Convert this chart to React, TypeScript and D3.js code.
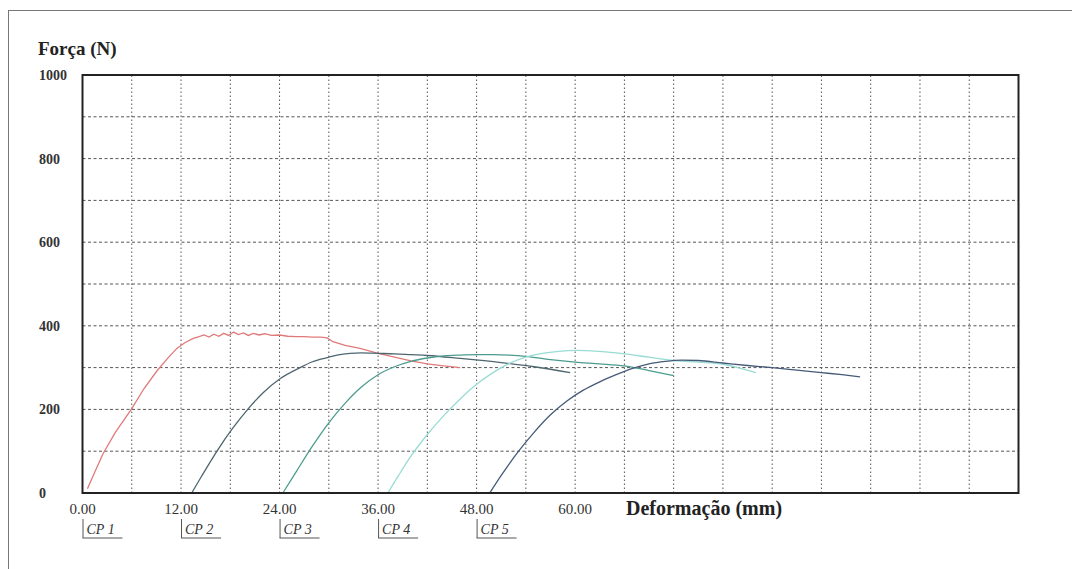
import { useEffect, useRef } from 'react'
import * as d3 from 'd3'

const W = 1072
const H = 569

// Força (N) x Deformação (mm), one curve per specimen
const cp1: [number, number][] = [
  [0.6, 10], [1.5, 50], [2.5, 94], [4, 145], [6, 202], [7.5, 250], [9.1, 293], [10.5, 325],
  [11.5, 346], [12.5, 360], [13.5, 370], [14.2, 374], [14.8, 378], [15.4, 373], [16, 380],
  [16.6, 375], [17.2, 382], [17.8, 377], [18.4, 385], [19, 379], [19.6, 383], [20.2, 377],
  [20.8, 382], [21.5, 378], [22.2, 381], [23, 377], [24, 378], [25, 375], [26, 374], [27, 374],
  [28, 373], [29, 373], [29.8, 371], [30.5, 362], [32, 353], [33.8, 346], [36, 334], [38, 325],
  [40, 316], [42, 309], [44, 304], [46, 300],
]
const cp2: [number, number][] = [
  [13.3, 0], [14.5, 40], [16.4, 101], [18.3, 155], [20.2, 202], [22, 240], [24.1, 274],
  [26.5, 300], [28, 314], [29.8, 324], [31, 330], [32.6, 334], [34, 335], [36, 334], [38, 333],
  [40, 331], [42, 329], [46, 322], [51, 312], [55, 302], [59.4, 288],
]
const cp3: [number, number][] = [
  [24.4, 0], [26, 50], [28, 112], [30, 168], [32, 215], [34, 254], [36, 283], [38, 302],
  [40, 315], [42, 323], [44, 328], [46, 330], [48, 331], [50, 331], [52, 330], [54, 327],
  [57, 319], [60, 313], [63, 309], [66, 304], [69, 293], [72, 281],
]
const cp4: [number, number][] = [
  [37.2, 0], [38.5, 42], [40, 88], [42, 140], [44, 185], [46, 225], [48, 260], [50, 288],
  [52, 310], [54, 325], [56, 334], [58, 339], [60.3, 341], [62, 340], [64, 337],
  [66, 333], [69, 325], [72, 317], [75, 313], [78, 308], [80, 299], [82, 288],
]
const cp5: [number, number][] = [
  [49.6, 0], [51, 42], [53, 97], [55, 145], [57, 187], [59, 220], [61, 246], [63, 266],
  [65, 283], [67, 298], [69, 309], [71, 315], [73, 318], [75, 317], [78, 311], [81, 305],
  [84, 300], [87, 294], [90, 288], [92.5, 283], [94.7, 278],
]

const seriesNames = ['CP 1', 'CP 2', 'CP 3', 'CP 4', 'CP 5']
const seriesData = [cp1, cp2, cp3, cp4, cp5]
const seriesColors = ['#e07a7a', '#4d6670', '#4c9c8e', '#98dcd4', '#465a78']
const seriesStart = [0, 12, 24, 36, 48]

const xTickLabels = [0, 12, 24, 36, 48, 60]
const yTickLabels = [0, 200, 400, 600, 800, 1000]

export default function App() {
  const svgRef = useRef<SVGSVGElement>(null)

  useEffect(() => {
    if (!svgRef.current) return
    const svg = d3.select(svgRef.current)
    svg.selectAll('*').remove()

    const x = d3.scaleLinear().domain([0, 114]).range([82.5, 1018.5])
    const y = d3.scaleLinear().domain([0, 1000]).range([493, 75])
    const font = '"Liberation Serif", "Times New Roman", serif'

    svg.append('rect').attr('width', W).attr('height', H).attr('fill', '#fff')
    // scan frame
    svg.append('rect')
      .attr('x', 8.5).attr('y', 10.5).attr('width', W + 20).attr('height', H + 20)
      .attr('fill', 'none').attr('stroke', '#777').attr('stroke-width', 1)

    // Grid
    const g = svg.append('g')
    g.selectAll('.hg')
      .data(d3.range(100, 1000, 100))
      .join('line')
      .attr('x1', x(0)).attr('x2', x(114))
      .attr('y1', d => y(d)).attr('y2', d => y(d))
      .attr('stroke', '#555').attr('stroke-width', 1).attr('stroke-dasharray', '3,2.5')
    g.selectAll('.vg')
      .data(d3.range(6, 114, 6))
      .join('line')
      .attr('x1', d => x(d)).attr('x2', d => x(d))
      .attr('y1', y(0)).attr('y2', y(1000))
      .attr('stroke', '#555').attr('stroke-width', 1).attr('stroke-dasharray', '1.5,2.5')

    // Curves
    seriesData.forEach((data, i) => {
      const line = d3.line<[number, number]>()
        .x(d => x(d[0]))
        .y(d => y(d[1]))
        .curve(i === 0 ? d3.curveLinear : d3.curveMonotoneX)
      svg.append('path')
        .datum(data)
        .attr('d', line)
        .attr('fill', 'none')
        .attr('stroke', seriesColors[i])
        .attr('stroke-width', 1.3)
    })

    // Frame of the plot
    svg.append('rect')
      .attr('x', x(0)).attr('y', y(1000))
      .attr('width', x(114) - x(0)).attr('height', y(0) - y(1000))
      .attr('fill', 'none').attr('stroke', '#222').attr('stroke-width', 2)

    // Y labels
    svg.selectAll('.yl')
      .data(yTickLabels)
      .join('text')
      .attr('x', 39).attr('y', d => y(d) + 5)
      .attr('font-family', font).attr('font-size', 14).attr('font-weight', 'bold')
      .attr('fill', '#333')
      .text(d => d)

    // X labels
    svg.selectAll('.xl')
      .data(xTickLabels)
      .join('text')
      .attr('x', d => x(d)).attr('y', 514)
      .attr('text-anchor', 'middle')
      .attr('font-family', font).attr('font-size', 15)
      .attr('fill', '#333')
      .text(d => d.toFixed(2))

    // Specimen labels
    seriesNames.forEach((name, i) => {
      const x0 = x(seriesStart[i])
      const lg = svg.append('g')
      lg.append('line').attr('x1', x0 + 0.5).attr('x2', x0 + 0.5).attr('y1', 519).attr('y2', 538)
        .attr('stroke', '#555').attr('stroke-width', 1)
      lg.append('line').attr('x1', x0).attr('x2', x0 + 40).attr('y1', 538).attr('y2', 538)
        .attr('stroke', '#555').attr('stroke-width', 1)
      lg.append('text')
        .attr('x', x0 + 4).attr('y', 534)
        .attr('font-family', font).attr('font-size', 14).attr('font-style', 'italic')
        .attr('fill', '#333')
        .text(name)
    })

    // Titles
    svg.append('text')
      .attr('x', 38).attr('y', 55)
      .attr('font-family', font).attr('font-size', 19).attr('font-weight', 'bold')
      .attr('fill', '#222')
      .text('Força (N)')
    svg.append('text')
      .attr('x', 626).attr('y', 515)
      .attr('font-family', font).attr('font-size', 20).attr('font-weight', 'bold')
      .attr('fill', '#222')
      .text('Deformação (mm)')
  }, [])

  return (
    <div style={{ position: 'absolute', left: 0, top: 0 }}>
      <svg ref={svgRef} width={W} height={H} style={{ display: 'block' }} />
    </div>
  )
}
